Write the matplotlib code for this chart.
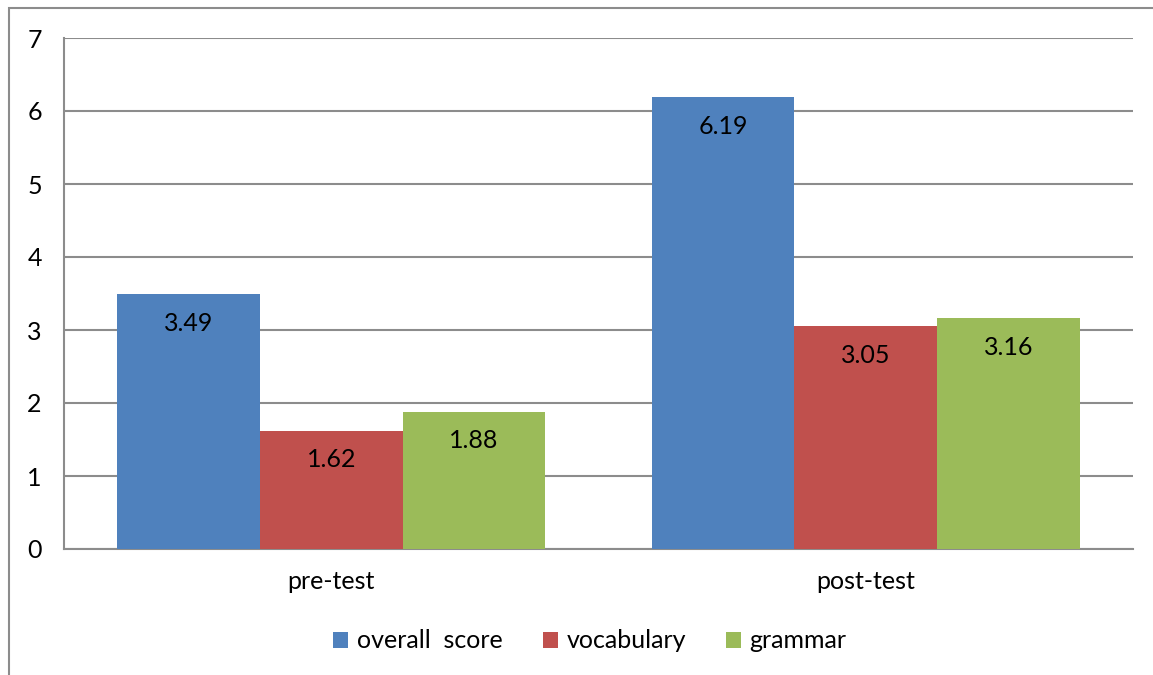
import numpy as np
import matplotlib.pyplot as plt
from matplotlib.patches import Rectangle

plt.rcParams["font.family"] = ["Lato", "DejaVu Sans"]

categories = ["pre-test", "post-test"]
series = ["overall  score", "vocabulary", "grammar"]
overall = [3.49, 6.19]
vocabulary = [1.62, 3.05]
grammar = [1.88, 3.16]
colors = ["#4F81BD", "#C0504D", "#9BBB59"]

fig = plt.figure(figsize=(11.53, 6.75), dpi=100)
ax = fig.add_axes([64 / 1153, 126 / 675, (1133 - 64) / 1153, (549 - 38) / 675])

# outer chart border (only top and left visible in the original)
fig.patches.append(Rectangle((9 / 1153, -0.1), 1.2, (675 - 8) / 675 + 0.1,
                             transform=fig.transFigure, fill=False,
                             edgecolor="#8c8c8c", linewidth=1.5))

x = np.arange(len(categories))
w = 0.8 / 3
for i, (vals, name) in enumerate(zip([overall, vocabulary, grammar], series)):
    bars = ax.bar(x + (i - 1) * w, vals, w, color=colors[i], label=name, zorder=3)
    for b, v in zip(bars, vals):
        ax.annotate(f"{v:.2f}", (b.get_x() + b.get_width() / 2, v),
                    xytext=(0, -21), textcoords="offset points",
                    ha="center", va="center", fontsize=18, zorder=4)

ax.set_xlim(-0.5, 1.5)
ax.set_ylim(0, 7)
ax.set_yticks(range(8))
ax.set_xticks(x, categories)
ax.yaxis.grid(True, color="#8c8c8c", linewidth=1.5, zorder=0)
ax.tick_params(axis="y", length=0, pad=16, labelsize=18)
ax.tick_params(axis="x", length=0, pad=15, labelsize=18)
for s in ["top", "right"]:
    ax.spines[s].set_visible(False)
for s in ["left", "bottom"]:
    ax.spines[s].set_color("#8c8c8c")
    ax.spines[s].set_linewidth(1.5)

ax.legend(loc="center", bbox_to_anchor=(0.492, -0.18), ncol=3, frameon=False,
          fontsize=18, handlelength=0.6, handleheight=0.6, handletextpad=0.35,
          columnspacing=1.6)

fig.savefig("out.png", dpi=100)
